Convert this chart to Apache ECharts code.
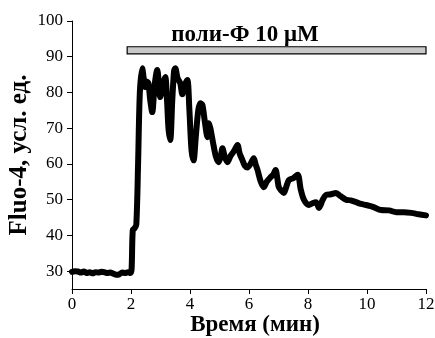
<!DOCTYPE html>
<html>
<head>
<meta charset="utf-8">
<script src="https://cdn.jsdelivr.net/npm/echarts@6/dist/echarts.min.js"></script>
<style>html,body{margin:0;padding:0;background:#fff;}#c{width:435px;height:338px;}</style>
</head>
<body>
<div id="c"></div>
<script>
const timeMin = [0,0.1,0.2,0.3,0.4,0.5,0.6,0.7,0.8,0.9,1.0,1.1,1.2,1.3,1.4,1.5,1.6,1.7,1.8,1.9,1.98,2.02,2.06,2.12,2.18,2.24,2.3,2.38,2.43,2.48,2.54,2.59,2.65,2.72,2.8,2.89,2.94,2.99,3.07,3.16,3.22,3.27,3.33,3.4,3.46,3.5,3.58,3.67,3.74,3.82,3.91,3.98,4.05,4.12,4.2,4.28,4.35,4.42,4.5,4.59,4.64,4.69,4.78,4.88,4.97,5.04,5.1,5.18,5.27,5.36,5.44,5.52,5.61,5.68,5.78,5.86,5.95,6.05,6.16,6.22,6.29,6.4,6.5,6.6,6.73,6.82,6.9,6.96,7.01,7.1,7.18,7.26,7.35,7.5,7.65,7.75,7.86,8.03,8.15,8.27,8.37,8.5,8.61,8.78,8.95,9.1,9.29,9.45,9.63,9.8,9.97,10.2,10.48,10.75,10.99,11.25,11.5,11.75,12.0];
const fluo = [29.8,30.0,29.9,29.6,29.9,29.5,29.7,29.4,29.7,29.6,29.8,29.7,29.5,29.6,29.3,29.0,29.1,29.6,29.5,29.7,29.5,30.5,41.5,42,43,60,80,86.8,84,81.5,83,82.6,78,74.5,82,86.3,83,78.7,82,84.3,78,70,66.7,78,86,86.8,84,82.6,79.5,82,83.5,75,64,61,68,75,77,76.5,72,67.5,71.4,70,66,62,60.5,62,64.4,62,60.5,62,63,64,65.3,63,61,59.5,59,60,61.6,60,58.3,55,53.5,55,56.3,57,58.3,56,53.5,52.5,51.9,53.5,55.5,56,57,53,50,48.5,49,49.3,47.7,50,51.3,51.5,51.9,51,50,49.8,49.3,48.8,48.5,48,47.1,47,46.5,46.5,46.3,45.9,45.6];
const xTicks = [0,2,4,6,8,10,12];
const yTicks = [30,40,50,60,70,80,90,100];
const stimStart = 1.87, stimEnd = 12.0, stimLow = 90.8, stimHigh = 92.8;
const stimLabel = 'поли-Ф 10 μM';
const xName = 'Время (мин)';
const yName = 'Fluo-4, усл. ед.';

const serif = '"Liberation Serif", "DejaVu Serif", serif';
const chart = echarts.init(document.getElementById('c'));
chart.setOption({
  animation: false,
  grid: {left: 72, right: 9, top: 21, bottom: 49, containLabel: false, outerBoundsMode: 'none'},
  xAxis: {
    type: 'value', min: 0, max: 12, interval: 2,
    name: xName, nameLocation: 'middle', nameGap: 25, nameMoveOverlap: false,
    nameTextStyle: {fontFamily: serif, fontWeight: 'bold', fontSize: 23, color: '#000', padding: [0, 0, 0, 12]},
    axisLine: {lineStyle: {color: '#000', width: 1}},
    axisTick: {show: true, length: 5, customValues: xTicks, lineStyle: {color: '#000'}},
    axisLabel: {fontFamily: serif, fontSize: 17, color: '#000', margin: 7, customValues: xTicks},
    splitLine: {show: false}
  },
  yAxis: {
    type: 'value', min: 25, max: 100,
    name: yName, nameLocation: 'middle', nameGap: 40, nameRotate: 90, nameMoveOverlap: false,
    nameTextStyle: {fontFamily: serif, fontWeight: 'bold', fontSize: 25, color: '#000'},
    axisLine: {show: true, lineStyle: {color: '#000', width: 1}},
    axisTick: {show: true, length: 5, customValues: yTicks, lineStyle: {color: '#000'}},
    axisLabel: {fontFamily: serif, fontSize: 17, color: '#000', margin: 9, customValues: yTicks},
    splitLine: {show: false}
  },
  graphic: [{
    type: 'text', x: 245, y: 24,
    style: {text: stimLabel, font: 'bold 23px ' + serif, fill: '#000', align: 'center', textAlign: 'center', verticalAlign: 'top'}
  }],
  series: [{
    type: 'line',
    data: timeMin.map((t, i) => [t, fluo[i]]),
    showSymbol: false,
    smooth: 0.3,
    lineStyle: {color: '#000', width: 6, join: 'round', cap: 'round'},
    markArea: {
      silent: true,
      itemStyle: {color: '#c8c8c8', borderColor: '#000', borderWidth: 1.2},
      data: [[{coord: [stimStart, stimLow]}, {coord: [stimEnd, stimHigh]}]]
    }
  }]
});
</script>
</body>
</html>
